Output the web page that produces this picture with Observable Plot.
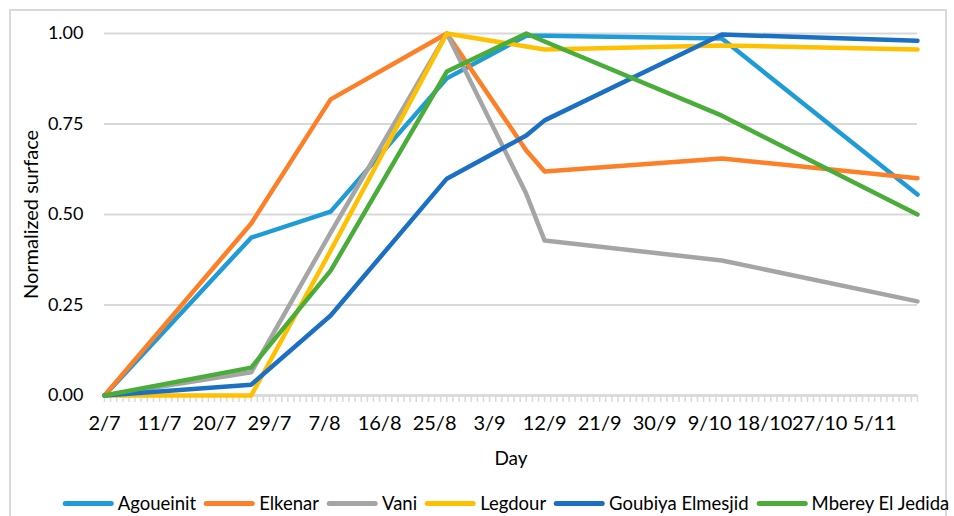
<!DOCTYPE html>
<html>
<head>
<meta charset="utf-8">
<script src="https://cdn.jsdelivr.net/npm/d3@7"></script>
<script src="https://cdn.jsdelivr.net/npm/@observablehq/plot@0.6"></script>
<style>
  html, body { margin: 0; padding: 0; background: #fff; }
  #wrap { position: relative; width: 954px; height: 516px; overflow: hidden; font-family: Lato, sans-serif; }
  #border { position: absolute; left: 9px; top: 9px; width: 938px; height: 530px; border: 2px solid #d9d9d9; box-sizing: border-box; }
  #chart { position: absolute; left: 0; top: 0; }
  #legend { position: absolute; top: 480px; height: 46px; left: 510px; transform: translateX(-50%);
            display: flex; align-items: center; white-space: nowrap; font-size: 18.5px; color: #000; }
  .item { display: flex; align-items: center; margin-right: 8px; }
  .sw { width: 51px; height: 5px; border-radius: 3px; margin-right: 4px; }
</style>
</head>
<body>
<div id="wrap">
  <div id="border"></div>
  <div id="chart"></div>
  <div id="legend"></div>
</div>
<script>
// ---- data ----
const dates = ["2019-07-02","2019-07-26","2019-08-08","2019-08-27","2019-09-09","2019-09-12","2019-10-11","2019-11-12"];
const seriesNames = ["Agoueinit","Elkenar","Vani","Legdour","Goubiya Elmesjid","Mberey El Jedida"];
const agoueinit = [0, 0.436, 0.508, 0.876, 0.994, 0.994, 0.986, 0.555];
const elkenar   = [0, 0.475, 0.818, 1.000, 0.677, 0.619, 0.655, 0.600];
const vani      = [0, 0.064, 0.450, 1.000, 0.557, 0.428, 0.373, 0.260];
const legdour   = [0, 0.000, 0.400, 1.000, 0.964, 0.956, 0.967, 0.956];
const goubiya   = [0, 0.030, 0.221, 0.599, 0.718, 0.760, 0.997, 0.980];
const mberey    = [0, 0.077, 0.345, 0.895, 1.000, 0.978, 0.773, 0.500];
const colors = ["#1f9bd7","#fd7f27","#a5a5a5","#ffc000","#1c70c4","#4aad3a"];
const xTickLabels = ["2/7","11/7","20/7","29/7","7/8","16/8","25/8","3/9","12/9","21/9","30/9","9/10","18/10","27/10","5/11"];
const yTicks = [0, 0.25, 0.5, 0.75, 1.0];

// ---- build table ----
const values = [agoueinit, elkenar, vani, legdour, goubiya, mberey];
const parse = d3.utcParse("%Y-%m-%d");
const dateObjs = dates.map(parse);
const rows = [];
seriesNames.forEach((name, i) => {
  values[i].forEach((v, j) => rows.push({series: name, date: dateObjs[j], value: v}));
});
const year = dateObjs[0].getUTCFullYear();
const xTickDates = xTickLabels.map(s => {
  const [d, m] = s.split("/").map(Number);
  return new Date(Date.UTC(year, m - 1, d));
});
const start = dateObjs[0], end = dateObjs[dateObjs.length - 1];
const days = d3.utcDays(start, d3.utcDay.offset(end, 1));

const chart = Plot.plot({
  width: 954,
  height: 480,
  marginLeft: 104,
  marginRight: 37,
  marginTop: 33,
  marginBottom: 85,
  style: {fontFamily: "Lato, sans-serif", fontSize: "18px", color: "#000", background: "transparent"},
  x: {type: "utc", domain: [start, end]},
  y: {domain: [0, 1]},
  color: {domain: seriesNames, range: colors},
  marks: [
    Plot.ruleY(yTicks, {stroke: "#d9d9d9", strokeWidth: 2}),
    Plot.axisX({ticks: days, tickSize: 7, tickFormat: () => "", stroke: "#d9d9d9", strokeWidth: 1.5, label: null}),
    Plot.ruleY([0], {stroke: "#d9d9d9", strokeWidth: 2.5}),
    Plot.axisX({ticks: xTickDates, tickSize: 0, tickPadding: 20, fontSize: 20,
                tickFormat: d => `${d.getUTCDate()}/${d.getUTCMonth() + 1}`, label: null}),
    Plot.axisY({ticks: yTicks, tickSize: 0, tickPadding: 21, tickFormat: d3.format(".2f"), label: null}),
    Plot.text(["Normalized surface"], {frameAnchor: "left", textAnchor: "middle", rotate: -90, dx: -73, fontSize: 20}),
    Plot.text(["Day"], {frameAnchor: "bottom", dy: 69, fontSize: 19}),
    Plot.line(rows, {x: "date", y: "value", z: "series", stroke: "series", strokeWidth: 4.5,
                     strokeLinejoin: "round", strokeLinecap: "round"})
  ]
});
document.getElementById("chart").appendChild(chart);

const legend = document.getElementById("legend");
seriesNames.forEach((name, i) => {
  const item = document.createElement("div");
  item.className = "item";
  const sw = document.createElement("span");
  sw.className = "sw";
  sw.style.background = colors[i];
  const label = document.createElement("span");
  label.textContent = name;
  item.appendChild(sw);
  item.appendChild(label);
  legend.appendChild(item);
});
</script>
</body>
</html>
